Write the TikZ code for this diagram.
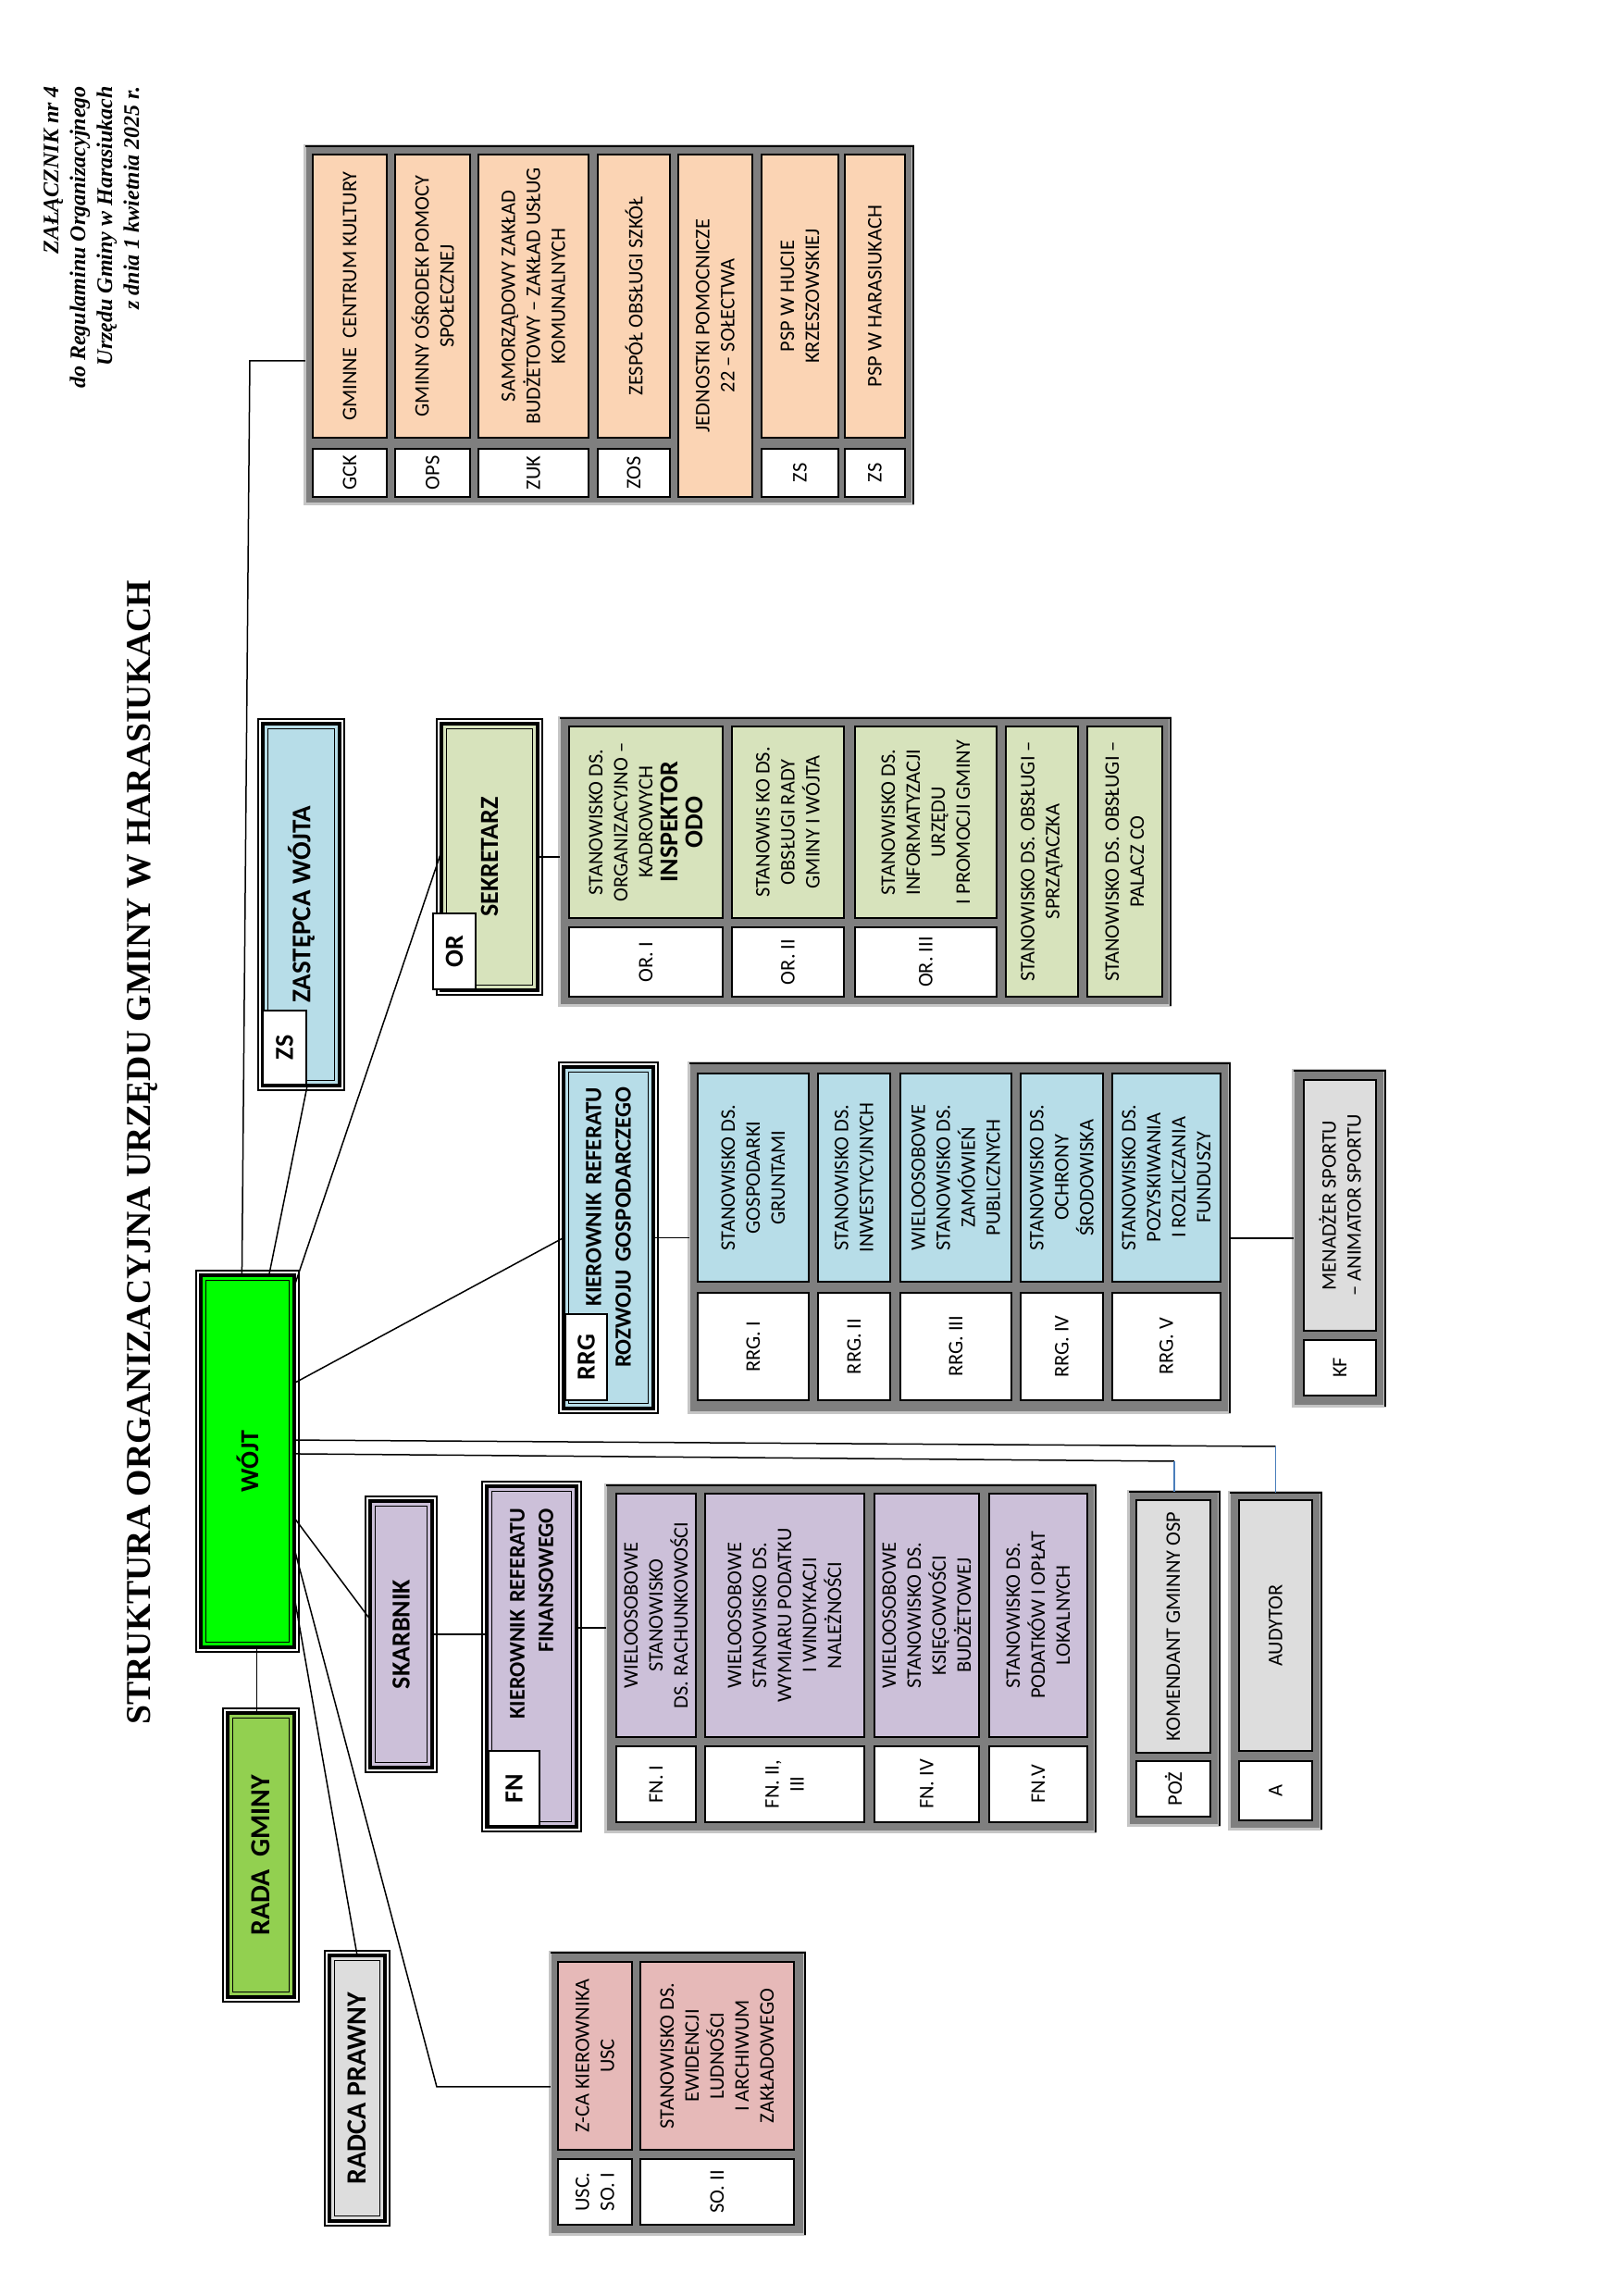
\documentclass[tikz,border=0pt]{standalone}
\usepackage{fontspec}
\setmainfont{Carlito}
\newfontfamily\timesf{Liberation Serif}
\usepackage{tikz}
\usetikzlibrary{calc}

\definecolor{peach}{HTML}{FBD4B4}
\definecolor{olive}{HTML}{D7E3BC}
\definecolor{aqua}{HTML}{B7DDE8}
\definecolor{lilac}{HTML}{CCC0D9}
\definecolor{rose}{HTML}{E6B9B8}
\definecolor{lgray}{HTML}{DDDDDD}
\definecolor{wgreen}{HTML}{00FF00}
\definecolor{rgreen}{HTML}{92D050}
\definecolor{fgray}{HTML}{7F7F7F}
\definecolor{lnblue}{HTML}{4A7EBB}

\tikzset{
  dbox/.style={draw=black, line width=4.3, fill=#1, outer sep=0, inner sep=2, align=center,
    font=\fontsize{29}{34}\selectfont\bfseries},
  lbl/.style={draw=black, line width=2, fill=white, outer sep=0, inner sep=0, anchor=north west,
    font=\fontsize{28}{32}\selectfont\bfseries},
  tabframe/.style={fill=fgray, draw=fgray!45, line width=3, outer sep=0, inner sep=0},
  cellbox/.style={fill=#1, draw=black, line width=2, outer sep=0, inner sep=2, align=center,
    font=\fontsize{22.4}{27}\selectfont},
  conline/.style={line width=1.5, black},
  blueline/.style={line width=1.3, lnblue},
  hdr/.style={anchor=north east, align=right, inner sep=0,
    font=\timesf\bfseries\itshape\fontsize{24}{29}\selectfont},
  ttl/.style={anchor=base, inner sep=0, font=\timesf\bfseries\fontsize{37.7}{42}\selectfont}
}
% table cell: [options](x1,y1)(x2,y2){text}
\def\tcell[#1](#2,#3)(#4,#5)#6{\node[#1,anchor=south west,minimum width={#4-#2},minimum height={#5-#3}] at (#2,#3) {#6};}
% thin lines inside and outside a double box
\def\dframe(#1){\draw[line width=1.6] ($(#1.south west)+(5.5,5.5)$) rectangle ($(#1.north east)-(5.5,5.5)$);
  \draw[line width=1.2] ($(#1.south west)-(5,5)$) rectangle ($(#1.north east)+(5,5)$);}
% dark edge of a table frame
\def\tabedge(#1){\draw[line width=2.5] (#1.south west) -- (#1.south east) -- (#1.north east);}
\def\hb#1{{\fontsize{28}{32}\selectfont\bfseries #1}}

\begin{document}
\begin{tikzpicture}[x=1pt, y=1pt, rotate=90, transform shape]
%%%%% START %%%%%
\useasboundingbox (0,0) rectangle (2481,1754);

\node[hdr] (zal) at (2388,1707) {ZAŁĄCZNIK nr 4\\do Regulaminu Organizacyjnego\\Urzędu Gminy w Harasiukach\\z dnia 1 kwietnia 2025 r.};
\node[ttl] (tytul) at (1236,1591) {STRUKTURA ORGANIZACYJNA URZĘDU GMINY W HARASIUKACH};

% jednostki organizacyjne
\node[tabframe, minimum width=387, minimum height=657] (jt) at (2129.5,1095.5) {};
\tabedge(jt)
\tcell[cellbox=white,name=gckc](1944,1336)(1996,1416){GCK}
\tcell[cellbox=peach,name=gck](2008,1336)(2314,1416){GMINNE\ \ CENTRUM KULTURY}
\tcell[cellbox=white,name=opsc](1944,1246)(1996,1327){OPS}
\tcell[cellbox=peach,name=ops](2008,1246)(2314,1327){GMINNY OŚRODEK POMOCY\\SPOŁECZNEJ}
\tcell[cellbox=white,name=zukc](1944,1118)(1996,1237){ZUK}
\tcell[cellbox=peach,name=zuk](2008,1118)(2314,1237){SAMORZĄDOWY ZAKŁAD\\BUDŻETOWY – ZAKŁAD USŁUG\\KOMUNALNYCH}
\tcell[cellbox=white,name=zosc](1944,1030)(1996,1108){ZOS}
\tcell[cellbox=peach,name=zos](2008,1030)(2314,1108){ZESPÓŁ OBSŁUGI SZKÓŁ}
\tcell[cellbox=peach,name=jedn](1944,941)(2314,1021){JEDNOSTKI POMOCNICZE\\22 – SOŁECTWA}
\tcell[cellbox=white,name=psphc](1944,848)(1996,931){ZS}
\tcell[cellbox=peach,name=psph](2008,848)(2314,931){PSP W HUCIE\\KRZESZOWSKIEJ}
\tcell[cellbox=white,name=pspc](1944,776)(1996,841){ZS}
\tcell[cellbox=peach,name=psp](2008,776)(2314,841){PSP W HARASIUKACH}

% kierownictwo
\node[dbox=wgreen, minimum width=402, minimum height=101, font=\fontsize{28}{32}\selectfont\bfseries] (wojt) at (902,1486.5) {WÓJT};
\dframe(wojt)
\node[dbox=aqua, minimum width=391, minimum height=83] (zs) at (1503.5,1428.5) {ZASTĘPCA WÓJTA};
\dframe(zs)
\node[lbl, minimum width=80, minimum height=47] (zsl) at (1309,1470) {ZS};
\node[dbox=olive, minimum width=288, minimum height=104, font=\fontsize{28}{32}\selectfont\bfseries] (sekr) at (1555,1225) {SEKRETARZ};
\dframe(sekr)
\node[lbl, minimum width=82, minimum height=46] (orl) at (1412,1286) {OR};
\node[dbox=aqua, minimum width=369, minimum height=97, text width=325, align=right, font=\fontsize{25}{32}\selectfont\bfseries] (rrg) at (1143.5,1096.5) {KIEROWNIK REFERATU\\ROZWOJU GOSPODARCZEGO};
\dframe(rrg)
\node[lbl, minimum width=93, minimum height=45] (rrgl) at (968,1143) {RRG};
\node[dbox=lilac, minimum width=288, minimum height=67, font=\fontsize{28}{32}\selectfont\bfseries] (skarb) at (715,1320.5) {SKARBNIK};
\dframe(skarb)
\node[dbox=lilac, minimum width=368, minimum height=97, text width=320, align=right, font=\fontsize{24}{31}\selectfont\bfseries] (fn) at (691,1179.5) {KIEROWNIK REFERATU\\FINANSOWEGO};
\dframe(fn)
\node[lbl, minimum width=81, minimum height=55] (fnl) at (508,1226) {FN};
\node[dbox=rgreen, minimum width=307, minimum height=72, font=\fontsize{30}{34}\selectfont\bfseries] (rada) at (476.5,1472) {RADA\ \ GMINY};
\dframe(rada)
\node[dbox=lgray, minimum width=287, minimum height=60, font=\fontsize{30}{34}\selectfont\bfseries] (radca) at (224.5,1368) {RADCA PRAWNY};
\dframe(radca)

% referat organizacyjny
\node[tabframe, minimum width=311, minimum height=660] (ort) at (1549.5,819) {};
\tabedge(ort)
\tcell[cellbox=white,name=or1c](1404,973)(1479,1139){OR. I}
\tcell[cellbox=olive,name=or1](1489,973)(1696,1139){STANOWISKO DS.\\ORGANIZACYJNO –\\KADROWYCH\\\hb{INSPEKTOR}\\\hb{ODO}}
\tcell[cellbox=white,name=or2c](1404,842)(1479,963){OR. II}
\tcell[cellbox=olive,name=or2](1489,842)(1696,963){STANOWIS KO DS.\\OBSŁUGI RADY\\GMINY I WÓJTA}
\tcell[cellbox=white,name=or3c](1404,677)(1479,830){OR. III}
\tcell[cellbox=olive,name=or3](1489,677)(1696,830){STANOWISKO DS.\\INFORMATYZACJI\\URZĘDU\\I PROMOCJI GMINY}
\tcell[cellbox=olive,name=or4](1404,589)(1696,667){STANOWISKO DS. OBSŁUGI –\\SPRZĄTACZKA}
\tcell[cellbox=olive,name=or5](1404,498)(1696,579){STANOWISKO DS. OBSŁUGI –\\PALACZ CO}

% referat rozwoju gospodarczego
\node[tabframe, minimum width=378, minimum height=584] (rrgt) at (1143,717) {};
\tabedge(rrgt)
\tcell[cellbox=white,name=r1c](968,880)(1084,1000){RRG. I}
\tcell[cellbox=aqua,name=r1](1096,880)(1321,1000){STANOWISKO DS.\\GOSPODARKI\\GRUNTAMI}
\tcell[cellbox=white,name=r2c](968,792)(1084,870){RRG. II}
\tcell[cellbox=aqua,name=r2](1096,792)(1321,870){STANOWISKO DS.\\INWESTYCYJNYCH}
\tcell[cellbox=white,name=r3c](968,661)(1084,781){RRG. III}
\tcell[cellbox=aqua,name=r3](1096,661)(1321,781){WIELOOSOBOWE\\STANOWISKO DS.\\ZAMÓWIEŃ\\PUBLICZNYCH}
\tcell[cellbox=white,name=r4c](968,562)(1084,651){RRG. IV}
\tcell[cellbox=aqua,name=r4](1096,562)(1321,651){STANOWISKO DS.\\OCHRONY\\ŚRODOWISKA}
\tcell[cellbox=white,name=r5c](968,435)(1084,552){RRG. V}
\tcell[cellbox=aqua,name=r5](1096,435)(1321,552){STANOWISKO DS.\\POZYSKIWANIA\\I ROZLICZANIA\\FUNDUSZY}

\node[tabframe, minimum width=363, minimum height=99] (kf) at (1142.5,306.5) {};
\tabedge(kf)
\tcell[cellbox=white,name=kfc](973,267)(1033,345){KF}
\tcell[cellbox=lgray,name=kft](1043,267)(1314,345){MENADŻER SPORTU\\– ANIMATOR SPORTU}

% referat finansowy
\node[tabframe, minimum width=375, minimum height=529] (fnt) at (688.5,834.5) {};
\tabedge(fnt)
\tcell[cellbox=white,name=f1c](512,1002)(594,1088){FN. I}
\tcell[cellbox=lilac,name=f1](604,1002)(867,1088){WIELOOSOBOWE\\STANOWISKO\\DS. RACHUNKOWOŚCI}
\tcell[cellbox=white,name=f2c](512,820)(594,992){FN. II,\\III}
\tcell[cellbox=lilac,name=f2](604,820)(867,992){WIELOOSOBOWE\\STANOWISKO DS.\\WYMIARU PODATKU\\I WINDYKACJI\\NALEŻNOŚCI}
\tcell[cellbox=white,name=f3c](512,696)(594,809){FN. IV}
\tcell[cellbox=lilac,name=f3](604,696)(867,809){WIELOOSOBOWE\\STANOWISKO DS.\\KSIĘGOWOŚCI\\BUDŻETOWEJ}
\tcell[cellbox=white,name=f4c](512,579)(594,685){FN.V}
\tcell[cellbox=lilac,name=f4](604,579)(867,685){STANOWISKO DS.\\PODATKÓW I OPŁAT\\LOKALNYCH}

\node[tabframe, minimum width=361, minimum height=98] (poz) at (688.5,485) {};
\tabedge(poz)
\tcell[cellbox=white,name=pozc](518,446)(578,526){POŻ}
\tcell[cellbox=lgray,name=pozt](587,446)(860,526){KOMENDANT GMINNY OSP}
\node[tabframe, minimum width=364, minimum height=99] (aud) at (686,375.5) {};
\tabedge(aud)
\tcell[cellbox=white,name=audc](514,336)(578,415){A}
\tcell[cellbox=lgray,name=audt](589,336)(860,415){AUDYTOR}

% usc
\node[tabframe, minimum width=305, minimum height=275] (usct) at (218.5,1021.5) {};
\tabedge(usct)
\tcell[cellbox=white,name=u1c](77,1071)(148,1151){USC.\\SO. I}
\tcell[cellbox=rose,name=u1](158,1071)(361,1151){Z-CA KIEROWNIKA\\USC}
\tcell[cellbox=white,name=u2c](77,896)(148,1062){SO. II}
\tcell[cellbox=rose,name=u2](158,896)(361,1062){STANOWISKO DS.\\EWIDENCJI\\LUDNOŚCI\\I ARCHIWUM\\ZAKŁADOWEGO}

% polaczenia
\coordinate (jtc) at (2091,1484);
\draw[conline] ($(wojt.south east)!0.56!(wojt.north east)$) -- (jtc) -- ($(jt.north west)!(jtc)!(jt.north east)$);
\draw[conline] ($(wojt.south east)!0.27!(wojt.north east)$) -- ($(zs.south west)!0.42!(zs.north west)$);
\draw[conline] ($(wojt.south west)!0.97!(wojt.south east)$) -- ($(sekr.north west)!0.52!(sekr.north east)$);
\draw[conline] (sekr.south) -- ($(ort.north west)!(sekr.south)!(ort.north east)$);
\draw[conline] ($(wojt.south west)!0.71!(wojt.south east)$) -- (rrg.north);
\draw[conline] (rrg.south) -- ($(rrgt.north west)!(rrg.south)!(rrgt.north east)$);
\draw[conline] (rrgt.south) -- ($(kf.north west)!(rrgt.south)!(kf.north east)$);
\coordinate (ac) at (918,375.5);
\draw[conline] ($(wojt.south west)!0.557!(wojt.south east)$) -- (ac);
\draw[blueline] (ac) -- ($(aud.south east)!(ac)!(aud.north east)$);
\coordinate (pc) at (902,485);
\draw[conline] ($(wojt.south west)!0.52!(wojt.south east)$) -- (pc);
\draw[blueline] (pc) -- ($(poz.south east)!(pc)!(poz.north east)$);
\draw[conline] ($(wojt.south west)!0.348!(wojt.south east)$) -- ($(skarb.north west)!0.556!(skarb.north east)$);
\draw[conline] (skarb.south) -- ($(fn.north west)!(skarb.south)!(fn.north east)$);
\coordinate (fnp) at ($(fn.south west)!0.584!(fn.south east)$);
\draw[conline] (fnp) -- ($(fnt.north west)!(fnp)!(fnt.north east)$);
\coordinate (uc) at (226,1282);
\draw[conline] ($(wojt.south west)!0.266!(wojt.south east)$) -- (uc) -- ($(usct.north west)!(uc)!(usct.north east)$);
\draw[conline] ($(wojt.south west)!0.137!(wojt.south east)$) -- (radca.east);
\coordinate (rw) at ($(wojt.south west)!0.4!(wojt.north west)$);
\draw[conline] (rw) -- ($(rada.south east)!(rw)!(rada.north east)$);
%%%%% END %%%%%
\end{tikzpicture}
\end{document}
